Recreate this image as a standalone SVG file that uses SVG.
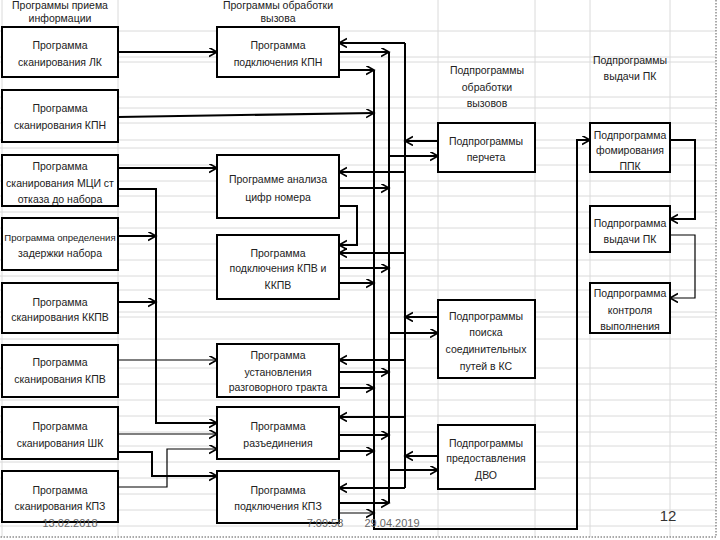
<svg xmlns="http://www.w3.org/2000/svg" width="720" height="540" viewBox="0 0 720 540">
<style>
.t{font-family:"Liberation Sans",Arial,sans-serif;font-size:10.5px;fill:#222;text-anchor:middle}
.d{font-family:"Liberation Sans",Arial,sans-serif;font-size:11px;fill:#666;text-anchor:middle}
.b{fill:#fff;stroke:#000;stroke-width:2}
.c{fill:none;stroke:#000;stroke-width:2}
.c1{fill:none;stroke:#000;stroke-width:1.2}
.g{stroke:#dadada;stroke-width:1}
</style>
<defs>
<marker id="a" markerUnits="userSpaceOnUse" markerWidth="12" markerHeight="12" refX="8" refY="4.5" orient="auto">
<path d="M0,0 L8,4.5 L0,9" fill="none" stroke="#000" stroke-width="1.6"/>
</marker>
</defs>
<rect width="720" height="540" fill="#fff"/>
<g id="grid">
<path class="g" d="M0,31H716M0,57H716M0,62H716M0,97H716M0,108H716M0,123H716M0,140H716M0,148H716M0,165H716M0,181H716M0,196H716M0,212H716M0,228H716M0,244H716M0,260H716M0,276H716M0,290H716M0,312H716M0,317H716M0,339H716M0,368H716M0,384H716M0,400H716M0,416H716M0,432H716M0,446H716M0,462H716M0,478H716M0,494H716M0,510H716M0,526H716"/>
<path class="g" d="M2,0V537M118,0V537M438,0V537M535,0V537M590,0V537M670,0V537"/>
<path d="M716,0V537H0" fill="none" stroke="#555" stroke-width="1" stroke-dasharray="1.5,1.5"/>
</g>
<g id="headers">
<text class="t" x="60" y="9">Программы приема</text>
<text class="t" x="60" y="22">информации</text>
<text class="t" x="278" y="9">Программы обработки</text>
<text class="t" x="278" y="22">вызова</text>
<text class="t" x="487" y="74">Подпрограммы</text>
<text class="t" x="487" y="91">обработки</text>
<text class="t" x="487" y="107">вызовов</text>
<text class="t" x="630" y="64">Подпрограммы</text>
<text class="t" x="630" y="80">выдачи ПК</text>
</g>
<g id="connectors">
<path class="c" d="M118,52H217" marker-end="url(#a)"/>
<path class="c" d="M118,117L374,113" marker-end="url(#a)"/>
<path class="c" d="M118,168H217" marker-end="url(#a)"/>
<path class="c" d="M118,189H156V423H217" marker-end="url(#a)"/>
<path class="c" d="M118,236H156" marker-end="url(#a)"/>
<path class="c" d="M118,302H156" marker-end="url(#a)"/>
<path class="c1" d="M118,360H217" marker-end="url(#a)"/>
<path class="c1" d="M118,434H217" marker-end="url(#a)"/>
<path class="c" d="M118,452H152V476H217" marker-end="url(#a)"/>
<path class="c1" d="M118,487H167V449H217" marker-end="url(#a)"/>
<path class="c" d="M405,43V488"/>
<path class="c" d="M389,52V503"/>
<path class="c" d="M374,70V529H577V140H590" marker-end="url(#a)"/>
<path class="c" d="M405,43H339" marker-end="url(#a)"/>
<path class="c" d="M339,52H389" marker-end="url(#a)"/>
<path class="c" d="M339,70H374" marker-end="url(#a)"/>
<path class="c" d="M405,172H339" marker-end="url(#a)"/>
<path class="c" d="M339,188H389" marker-end="url(#a)"/>
<path class="c" d="M339,206H357V245H339" marker-end="url(#a)"/>
<path class="c" d="M405,253H339" marker-end="url(#a)"/>
<path class="c" d="M339,268H389" marker-end="url(#a)"/>
<path class="c" d="M339,283H374" marker-end="url(#a)"/>
<path class="c" d="M405,360H339" marker-end="url(#a)"/>
<path class="c" d="M339,372H389" marker-end="url(#a)"/>
<path class="c" d="M339,388H374" marker-end="url(#a)"/>
<path class="c" d="M405,417H339" marker-end="url(#a)"/>
<path class="c" d="M339,435H389" marker-end="url(#a)"/>
<path class="c" d="M339,451H374" marker-end="url(#a)"/>
<path class="c" d="M405,488H339" marker-end="url(#a)"/>
<path class="c" d="M339,503H389" marker-end="url(#a)"/>
<path class="c1" d="M339,513H374" marker-end="url(#a)"/>
<path class="c" d="M438,141H405" marker-end="url(#a)"/>
<path class="c" d="M389,156H438" marker-end="url(#a)"/>
<path class="c" d="M438,317H405" marker-end="url(#a)"/>
<path class="c" d="M389,333H438" marker-end="url(#a)"/>
<path class="c" d="M438,456H405" marker-end="url(#a)"/>
<path class="c" d="M389,470H438" marker-end="url(#a)"/>
<path class="c" d="M670,140H695V219H670" marker-end="url(#a)"/>
<path class="c1" d="M670,235H695V298H670" marker-end="url(#a)"/>
</g>
<g id="in1"><rect class="b" x="2" y="27" width="116" height="50"/><text class="t" x="60" y="49">Программа</text><text class="t" x="60" y="66">сканирования ЛК</text></g>
<g id="in2"><rect class="b" x="2" y="90" width="116" height="52"/><text class="t" x="60" y="112">Программа</text><text class="t" x="60" y="129">сканирования КПН</text></g>
<g id="in3"><rect class="b" x="2" y="155" width="116" height="51"/><text class="t" x="60" y="170">Программа</text><text class="t" x="60" y="187">сканирования МЦИ ст</text><text class="t" x="60" y="203">отказа до набора</text></g>
<g id="in4"><rect class="b" x="2" y="218" width="116" height="52"/><text class="t" x="60" y="241" style="font-size:9.6px">Программа определения</text><text class="t" x="60" y="257">задержки набора</text></g>
<g id="in5"><rect class="b" x="2" y="283" width="116" height="50"/><text class="t" x="60" y="306">Программа</text><text class="t" x="60" y="321">сканирования ККПВ</text></g>
<g id="in6"><rect class="b" x="2" y="345" width="116" height="52"/><text class="t" x="60" y="366">Программа</text><text class="t" x="60" y="383">сканирования КПВ</text></g>
<g id="in7"><rect class="b" x="2" y="407" width="116" height="52"/><text class="t" x="60" y="430">Программа</text><text class="t" x="60" y="447">сканирования ШК</text></g>
<g id="in8"><rect class="b" x="2" y="471" width="116" height="51"/><text class="t" x="60" y="494">Программа</text><text class="t" x="60" y="510">сканирования КПЗ</text></g>
<g id="m1"><rect class="b" x="217" y="27" width="122" height="50"/><text class="t" x="278" y="49">Программа</text><text class="t" x="278" y="66">подключения КПН</text></g>
<g id="m2"><rect class="b" x="217" y="155" width="122" height="63"/><text class="t" x="278" y="183">Программе анализа</text><text class="t" x="278" y="201">цифр номера</text></g>
<g id="m3"><rect class="b" x="217" y="235" width="122" height="64"/><text class="t" x="278" y="257">Программа</text><text class="t" x="278" y="272">подключения КПВ и</text><text class="t" x="278" y="289">ККПВ</text></g>
<g id="m4"><rect class="b" x="217" y="344" width="122" height="53"/><text class="t" x="278" y="359">Программа</text><text class="t" x="278" y="376">установления</text><text class="t" x="278" y="391">разговорного тракта</text></g>
<g id="m5"><rect class="b" x="217" y="407" width="122" height="52"/><text class="t" x="278" y="430">Программа</text><text class="t" x="278" y="447">разъединения</text></g>
<g id="m6"><rect class="b" x="217" y="471" width="122" height="52"/><text class="t" x="278" y="494">Программа</text><text class="t" x="278" y="510">подключения КПЗ</text></g>
<g id="r1"><rect class="b" x="438" y="123" width="97" height="49"/><text class="t" x="486" y="145">Подпрограммы</text><text class="t" x="486" y="161">перчета</text></g>
<g id="r2"><rect class="b" x="438" y="300" width="97" height="78"/><text class="t" x="486" y="320">Подпрограммы</text><text class="t" x="486" y="336">поиска</text><text class="t" x="486" y="353">соединительных</text><text class="t" x="486" y="370">путей в КС</text></g>
<g id="r3"><rect class="b" x="438" y="425" width="97" height="64"/><text class="t" x="486" y="447">Подпрограммы</text><text class="t" x="486" y="462">предоставления</text><text class="t" x="486" y="479">ДВО</text></g>
<g id="p1"><rect class="b" x="590" y="123" width="80" height="49"/><text class="t" x="630" y="139">Подпрограмма</text><text class="t" x="630" y="154">фомирования</text><text class="t" x="630" y="170">ППК</text></g>
<g id="p2"><rect class="b" x="590" y="206" width="80" height="46"/><text class="t" x="630" y="227">Подпрограмма</text><text class="t" x="630" y="243">выдачи ПК</text></g>
<g id="p3"><rect class="b" x="590" y="283" width="80" height="50"/><text class="t" x="630" y="297">Подпрограмма</text><text class="t" x="630" y="314">контроля</text><text class="t" x="630" y="330">выполнения</text></g>
<g id="footer">
<text class="d" x="70" y="527">13.02.2018</text>
<text class="d" x="325" y="527">7:09:58</text>
<text class="d" x="392" y="527">29.04.2019</text>
<text class="d" x="668" y="521" style="font-size:15px;fill:#333">12</text>
</g>
</svg>
